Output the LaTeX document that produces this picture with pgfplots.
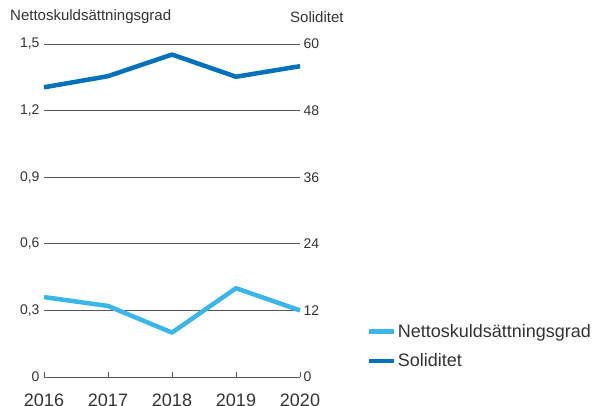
\documentclass[border=0pt]{standalone}
\usepackage{fontspec}
\setmainfont{Liberation Sans}
\usepackage{pgfplots}
\pgfplotsset{compat=1.18}
\definecolor{lblue}{RGB}{59,182,232}
\definecolor{dblue}{RGB}{0,114,188}
\definecolor{txt}{RGB}{51,51,51}
\definecolor{gridc}{RGB}{85,85,85}
\pgfplotsset{
  base/.style={
    scale only axis, width=256pt, height=333pt,
    at={(0pt,0pt)}, anchor=south west,
    xmin=2016, xmax=2020, clip=false,
    y axis line style={draw=none},
    ytick style={draw=none},
    tick label style={font=\fontsize{14}{16}\selectfont, text=txt},
    /pgf/number format/assume math mode=true,
  },
}
\begin{document}
\begin{tikzpicture}
\useasboundingbox (-44pt,-28pt) rectangle (549pt,377pt);
\begin{axis}[base,
  ymin=0, ymax=1.5, ytick={0,0.3,0.6,0.9,1.2,1.5},
  axis x line*=bottom, axis y line*=left,
  x axis line style={gridc, line width=0.8pt},
  xtick={2016,2017,2018,2019,2020},
  xtick align=inside, major tick length=5pt,
  xtick style={gridc, line width=0.8pt},
  xticklabel style={font=\fontsize{18}{20}\selectfont, yshift=-13pt, /pgf/number format/1000 sep={}},
  ymajorgrids, grid style={gridc, line width=0.7pt},
  yticklabel style={xshift=-1pt, /pgf/number format/.cd, use comma, fixed, precision=1},
]
\addplot[lblue, line width=4.5pt, line join=round] coordinates {
  (2016,0.36) (2017,0.32) (2018,0.20) (2019,0.40) (2020,0.30)};
\end{axis}
\begin{axis}[base,
  ymin=0, ymax=60, ytick={0,12,24,36,48,60},
  axis y line*=right, axis x line=none,
  legend style={at={(axis description cs:1.258,0.093)}, anchor=west,
    draw=none, fill=none, inner sep=0pt,
    font=\fontsize{18}{20}\selectfont, text=txt,
    row sep=11pt, cells={anchor=west}},
  legend image code/.code={\draw[#1] (0pt,0pt) -- (25pt,0pt);},
]
\addlegendimage{lblue, line width=4.5pt}
\addlegendentry{Nettoskuldsättningsgrad}
\addplot[dblue, line width=4.5pt, line join=round] coordinates {
  (2016,52.2) (2017,54.2) (2018,58.1) (2019,54.1) (2020,56.0)};
\addlegendentry{Soliditet}
\end{axis}
\node[anchor=west, text=txt, font=\fontsize{15}{17}\selectfont, inner sep=0pt] at (-34pt,360pt) {Nettoskuldsättningsgrad};
\node[anchor=west, text=txt, font=\fontsize{15}{17}\selectfont, inner sep=0pt] at (246pt,360pt) {Soliditet};
\end{tikzpicture}
\end{document}
